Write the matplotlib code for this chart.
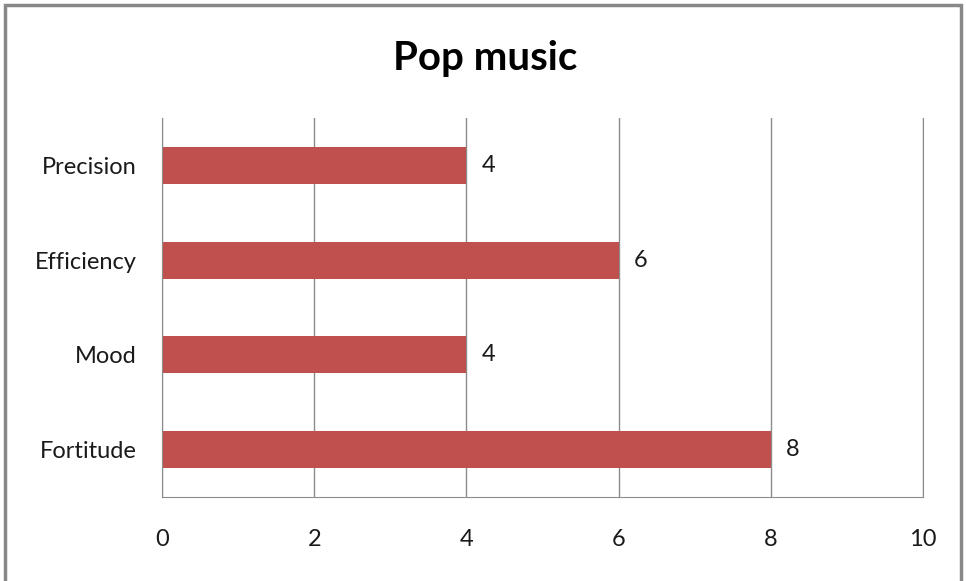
import matplotlib.pyplot as plt
from matplotlib.patches import Rectangle

categories = ["Fortitude", "Mood", "Efficiency", "Precision"]
values = [8, 4, 6, 4]
xticks = [0, 2, 4, 6, 8, 10]

plt.rcParams['font.family'] = ['Lato', 'DejaVu Sans']

fig = plt.figure(figsize=(9.66, 5.81), dpi=100)
ax = fig.add_axes([0.1677, 0.1446, 0.7878, 0.6524])

ax.barh(range(len(categories)), values, height=0.39, color="#C0504D", zorder=3)
for i, v in enumerate(values):
    ax.text(v + 0.2, i, str(v), va="center", ha="left", fontsize=17, color="#1a1a1a")

ax.set_xlim(0, 10)
ax.set_ylim(-0.5, 3.5)
ax.set_xticks(xticks)
ax.set_yticks(range(len(categories)))
ax.set_yticklabels(categories)
ax.tick_params(length=0, labelsize=17, labelcolor="#1a1a1a")
ax.tick_params(axis="x", pad=23)
ax.tick_params(axis="y", pad=18)
ax.grid(axis="x", color="#8c8c8c", linewidth=1, zorder=0)

ax.spines["top"].set_visible(False)
for s in ["left", "bottom", "right"]:
    ax.spines[s].set_color("#8c8c8c")
ax.spines["left"].set_zorder(4)

fig.text(0.502, 0.9, "Pop music", ha="center", va="center", fontsize=29, fontweight="bold")

# outer chart border
fig.patches.append(Rectangle((0.005, -0.01), 0.99, 1.002, transform=fig.transFigure,
                             fill=False, edgecolor="#888888", linewidth=2.5))

fig.savefig("out.png", dpi=100)
